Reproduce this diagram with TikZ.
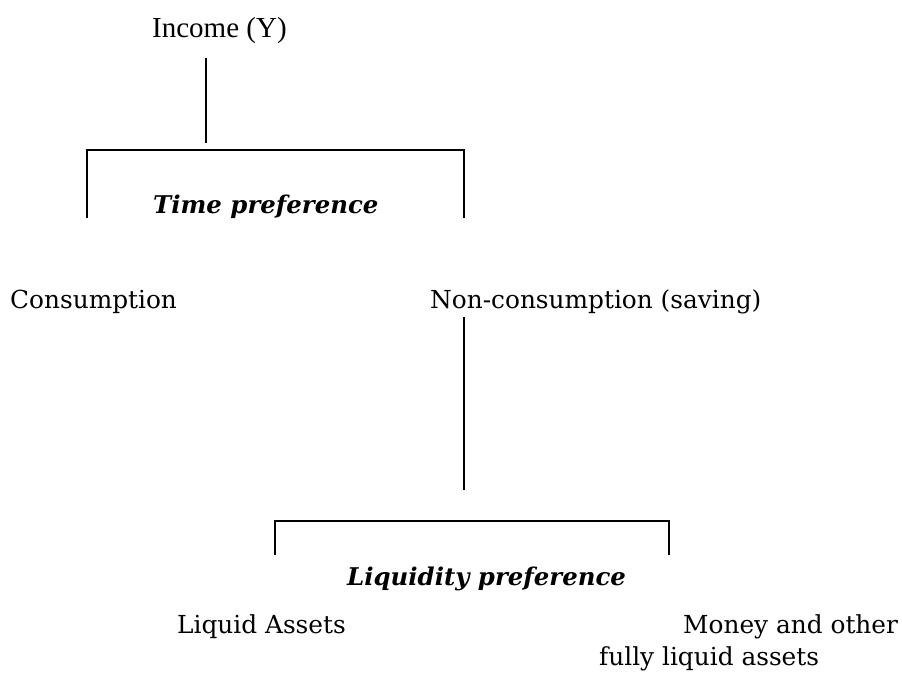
\documentclass[tikz,border=0pt]{standalone}
\usepackage{fontspec}
\setmainfont{DejaVu Serif}
\newfontfamily\timesfont{Liberation Serif}
\usetikzlibrary{positioning}
\tikzset{
  lbl/.style={inner sep=0pt, anchor=base west, font=\fontsize{24.8}{30}\selectfont},
  pref/.style={inner sep=0pt, anchor=base west, font=\fontsize{24.4}{28}\selectfont\bfseries\itshape},
  conn/.style={line width=1.3pt, black}
}
\begin{document}
\begin{tikzpicture}[x=1pt, y=-1pt]
  \useasboundingbox (0,0) rectangle (902,682);

  % Верх: доход
  \node[inner sep=0pt, anchor=base west, font=\fontsize{29}{34}\selectfont\timesfont] (income) at (152,38) {Income (Y)};
  \coordinate (incbot) at (206,58);
  \coordinate (incjoin) at (206,143);
  \draw[conn] (incbot) -- (incjoin);

  % Скобка: временное предпочтение
  \coordinate (tpl) at (87,150);
  \coordinate (tpr) at (464,150);
  \draw[conn] (87,218) -- (tpl) -- (tpr) -- (464,218);
  \node[pref] (timepref) at (153,213) {Time preference};

  % Средний ряд
  \node[lbl] (cons) at (10,308) {Consumption};
  \node[lbl] (noncons) at (430,308) {Non-consumption (saving)};
  \coordinate (ncbot) at (464,317);
  \coordinate (ncjoin) at (464,490);
  \draw[conn] (ncbot) -- (ncjoin);

  % Скобка: предпочтение ликвидности
  \coordinate (lpl) at (275,521);
  \coordinate (lpr) at (669,521);
  \draw[conn] (275,555) -- (lpl) -- (lpr) -- (669,555);
  \node[pref] (liqpref) at (347,585) {Liquidity preference};

  % Нижний ряд
  \node[lbl] (liquid) at (177,633) {Liquid Assets};
  \node[lbl] (money) at (683,633) {Money and other};
  \node[lbl] (fully) at (599,665) {fully liquid assets};
\end{tikzpicture}
\end{document}
